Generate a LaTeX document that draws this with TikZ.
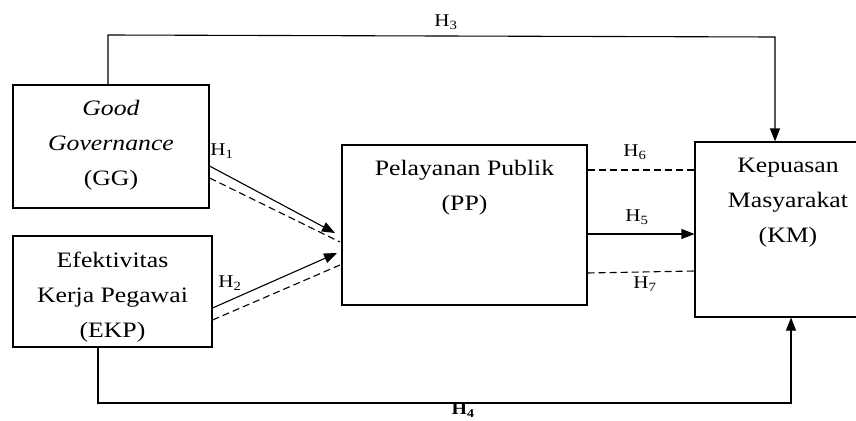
\documentclass[tikz,border=0pt]{standalone}
\usepackage{fontspec}
\setmainfont[FakeStretch=1.17]{Liberation Serif}
\usetikzlibrary{arrows.meta}
\begin{document}
\begin{tikzpicture}[x=1pt,y=-1pt,
  box/.style={draw,line width=1.1pt,rectangle,inner sep=0pt},
  txt/.style={align=center,inner sep=0pt,font=\fontsize{22}{35}\selectfont},
  hlab/.style={inner sep=0pt,font=\fontsize{18}{20}\selectfont},
  conn/.style={line width=1.1pt},
  arr/.style={conn,-{Triangle[length=13pt,width=10pt]}},
  dsh/.style={line width=1.1pt,dash pattern=on 7pt off 4pt}]
\useasboundingbox (0,0) rectangle (856,420);
\clip (0,0) rectangle (856,420);
% boxes
\node[box,minimum width=196pt,minimum height=123pt] (GG) at (111,146.5) {};
\node[box,minimum width=199pt,minimum height=111pt] (EKP) at (112.5,291.5) {};
\node[box,minimum width=245pt,minimum height=160pt] (PP) at (464.5,225) {};
\node[box,minimum width=186pt,minimum height=175pt] (KM) at (788,229.5) {};
% texts
\node[txt] (GGt) at (111,145) {\itshape Good\\\itshape Governance\\(GG)};
\node[txt] (EKPt) at (112.5,297.5) {Efektivitas\\Kerja Pegawai\\(EKP)};
\node[txt] (PPt) at (464.5,187.5) {Pelayanan Publik\\(PP)};
\node[txt] (KMt) at (788,203) {Kepuasan\\Masyarakat\\(KM)};
% H1, H2
\draw[arr] ([yshift=-19.5]GG.east) -- (335,233);
\draw[dsh] ([yshift=-31.5]GG.east) -- (340,242);
\draw[arr] ([yshift=-16.5]EKP.east) -- (337,253);
\draw[dsh] ([yshift=-28.5]EKP.east) -- (340,265);
% H3
\coordinate (h3a) at (108,35);
\coordinate (h3b) at (775,37);
\draw[arr] ([xshift=-3]GG.north) -- (h3a) -- (h3b) -- (h3b |- KM.north);
% H4
\coordinate (h4a) at (98,403);
\coordinate (h4b) at (791,403);
\draw[arr] ([xshift=-14.5]EKP.south) -- (h4a) -- (h4b) -- (h4b |- KM.south);
% H5, H6, H7
\draw[arr] ([yshift=-9]PP.east) -- ([yshift=-9]PP.east -| KM.west);
\draw[dsh] ([yshift=55]PP.east) -- ([yshift=55]PP.east -| KM.west);
\draw[dsh] ([yshift=-48]PP.east) -- ([yshift=-46]PP.east -| KM.west);
% labels
\node[hlab] (l1) at (222,151) {H\textsubscript{1}};
\node[hlab] (l2) at (230,283) {H\textsubscript{2}};
\node[hlab] (l3) at (446,22) {H\textsubscript{3}};
\node[hlab,font=\fontsize{17}{20}\selectfont\bfseries] (l4) at (463,410.5) {H\textsubscript{4}};
\node[hlab] (l5) at (637,217) {H\textsubscript{5}};
\node[hlab] (l6) at (635,152) {H\textsubscript{6}};
\node[hlab] (l7) at (645,284) {H\textsubscript{7}};
\end{tikzpicture}
\end{document}
